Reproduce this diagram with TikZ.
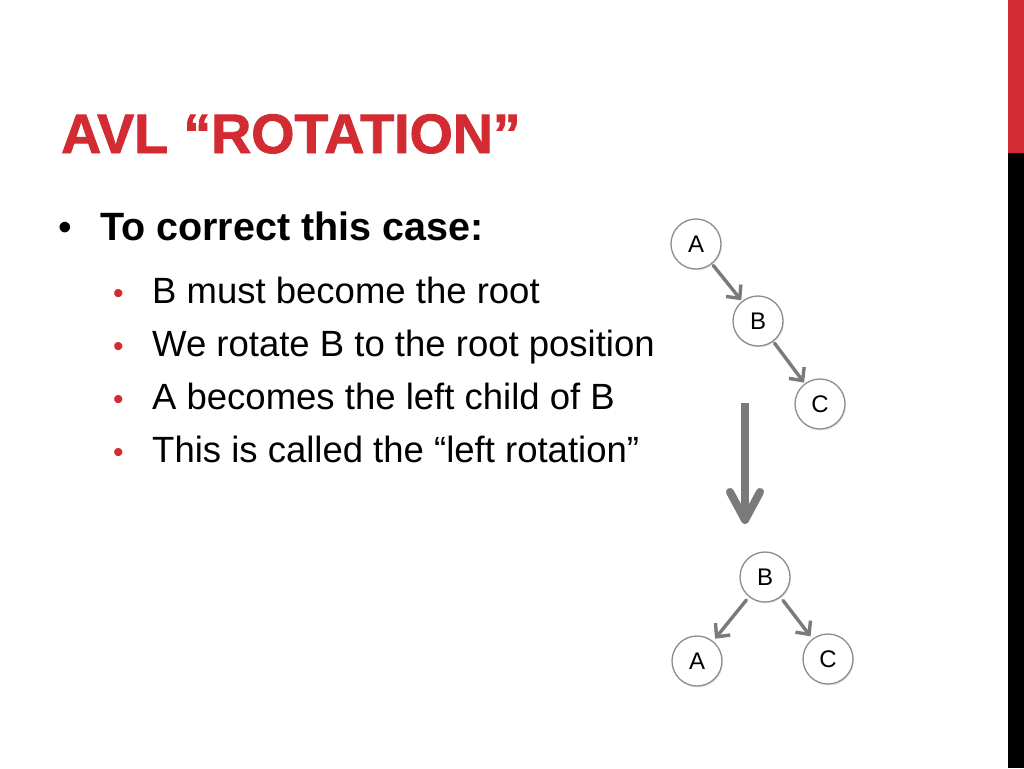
\documentclass[tikz,border=0pt]{standalone}
\usepackage{fontspec}
\setmainfont{Liberation Sans}
\newfontfamily\titlefont[FakeBold=1.6]{Liberation Sans Bold}
\usepackage{xcolor}
\usetikzlibrary{calc, positioning, arrows.meta, shadows}

\definecolor{slidered}{HTML}{D22B32}
\definecolor{edgegray}{HTML}{7A7A7A}

\begin{document}
\begin{tikzpicture}[x=1pt, y=-1pt, >=stealth,
    treenode/.style={circle, draw=gray!90, line width=1.3pt, fill=white,
        minimum size=50pt, inner sep=0pt, font=\fontsize{24}{24}\selectfont,
        drop shadow={opacity=0.18, shadow xshift=1pt, shadow yshift=-1.5pt}},
    treeedge/.style={draw=edgegray, line width=3.4pt, line cap=round,
        -{Straight Barb[length=10pt, width=19pt, line width=3.4pt]}},
    subitem/.style={anchor=base west, font=\fontsize{36.5}{40}\selectfont}]
    % --- Khung trang ---
    \useasboundingbox (0,0) rectangle (1024,768);
    \fill[white] (0,0) rectangle (1024,768);
    \fill[slidered] (1008,0) rectangle (1024,153);
    \fill[black] (1008,153) rectangle (1024,768);

    % --- Tieu de ---
    \node[anchor=base west, text=slidered, inner sep=0pt,
        font=\fontsize{55.5}{55}\selectfont\titlefont] (title) at (61,153)
        {AVL \char"201C ROTATION\char"201D};

    % --- Cac dong liet ke ---
    \node[anchor=base west, inner sep=0pt, font=\fontsize{39}{40}\selectfont] (dot) at (58,240) {\textbullet};
    \node[anchor=base west, inner sep=0pt, font=\fontsize{39.5}{40}\selectfont\bfseries] (head) at (100,240)
        {To correct this case:};
    \foreach \y/\t [count=\i] in {303/B must become the root,
                                  356/We rotate B to the root position,
                                  409/A becomes the left child of B,
                                  462/This is called the \char"201C left rotation\char"201D} {
        \node[subitem, inner sep=0pt, text=slidered, font=\fontsize{30}{30}\selectfont] (sdot\i) at (113,\y) {\textbullet};
        \node[subitem, inner sep=0pt] (item\i) at (152,\y) {\t};
    }

    % --- Cay truoc khi xoay ---
    \node[treenode] (A1) at (696,244) {A};
    \node[treenode] (B1) at (758,321) {B};
    \node[treenode] (C1) at (820,404) {C};
    \draw[treeedge, shorten <=2pt, shorten >=1pt] (A1) -- (B1);
    \draw[treeedge, shorten <=2pt, shorten >=1pt] (B1) -- (C1);

    % --- Mui ten lon ---
    \coordinate (P) at (745,403);
    \coordinate (Q) at (745,524);
    \draw[edgegray, line width=8pt,
        -{Straight Barb[length=28pt, width=30pt, line width=8pt, round]}] (P) -- (Q);

    % --- Cay sau khi xoay ---
    \node[treenode] (B2) at (765,577) {B};
    \node[treenode] (A2) at (697,661) {A};
    \node[treenode] (C2) at (828,659) {C};
    \draw[treeedge, shorten <=4pt, shorten >=3pt] (B2) -- (A2);
    \draw[treeedge, shorten <=4pt, shorten >=3pt] (B2) -- (C2);
\end{tikzpicture}
\end{document}
